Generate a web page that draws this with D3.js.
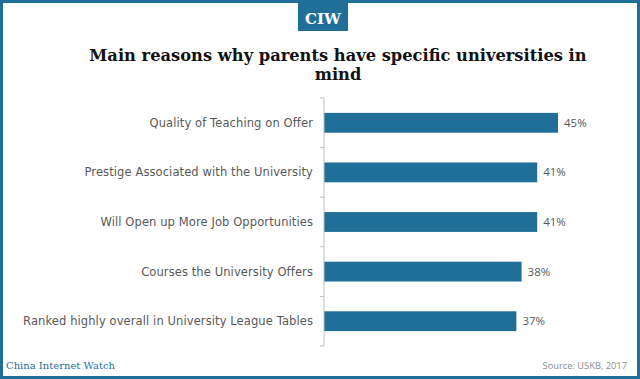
<!DOCTYPE html>
<html>
<head>
<meta charset="utf-8">
<script src="https://cdn.jsdelivr.net/npm/d3@7"></script>
<style>
  body { margin: 0; background: #fff; }
  svg { display: block; }
</style>
</head>
<body>
<script>
(function(){

	var categories = [
		"Quality of Teaching on Offer",
		"Prestige Associated with the University",
		"Will Open up More Job Opportunities",
		"Courses the University Offers",
		"Ranked highly overall in University League Tables"
	];
	var values = [45, 41, 41, 38, 37];
	var valueLabels = ["45%", "41%", "41%", "38%", "37%"];

	var width = 640,
		height = 379;

	var blue = "#1f6f98";

	var svg = d3.select("body")
		.append("svg")
		.attr("width", width)
		.attr("height", height);

	//outer frame
	svg.append("rect")
		.attr("x", 1.5)
		.attr("y", 1.5)
		.attr("width", width - 3)
		.attr("height", height - 3)
		.attr("fill", "#fff")
		.attr("stroke", blue)
		.attr("stroke-width", 3);

	//CIW badge
	svg.append("rect")
		.attr("x", 298)
		.attr("y", 3)
		.attr("width", 50)
		.attr("height", 28)
		.attr("fill", blue);
	svg.append("text")
		.attr("x", 323)
		.attr("y", 24)
		.attr("text-anchor", "middle")
		.attr("fill", "#fff")
		.style("font-family", "'DejaVu Serif', serif")
		.style("font-size", "15px")
		.style("font-weight", "bold")
		.text("CIW");

	//title
	var title = svg.append("text")
		.attr("text-anchor", "middle")
		.attr("fill", "#111")
		.style("font-family", "'DejaVu Serif', serif")
		.style("font-size", "16.3px")
		.style("font-weight", "bold");
	title.append("tspan").attr("x", 338).attr("y", 61)
		.text("Main reasons why parents have specific universities in");
	title.append("tspan").attr("x", 338).attr("y", 80)
		.text("mind");

	//scales
	var x = d3.scaleLinear()
		.domain([0, 45])
		.range([324, 558]);

	var y = d3.scaleBand()
		.domain(categories)
		.range([98, 346])
		.paddingInner(0.6)
		.paddingOuter(0.3);

	//bars
	svg.selectAll(".bar")
		.data(values)
		.enter()
		.append("rect")
		.attr("class", "bar")
		.attr("x", x(0))
		.attr("y", function(d, i){ return y(categories[i]); })
		.attr("width", function(d){ return x(d) - x(0); })
		.attr("height", y.bandwidth())
		.attr("fill", blue);

	//axis line and ticks between categories
	svg.append("line")
		.attr("x1", x(0)).attr("x2", x(0))
		.attr("y1", y.range()[0]).attr("y2", y.range()[1])
		.attr("stroke", "#bfbfbf")
		.attr("stroke-width", 1);

	var bounds = d3.range(categories.length + 1).map(function(i){
		return y.range()[0] + i * y.step();
	});
	svg.selectAll(".tick")
		.data(bounds)
		.enter()
		.append("line")
		.attr("x1", x(0) - 4).attr("x2", x(0))
		.attr("y1", function(d){ return d; })
		.attr("y2", function(d){ return d; })
		.attr("stroke", "#bfbfbf");

	//category labels
	svg.selectAll(".cat")
		.data(categories)
		.enter()
		.append("text")
		.attr("x", 313)
		.attr("y", function(d){ return y(d) + y.bandwidth() / 2; })
		.attr("dy", "0.35em")
		.attr("text-anchor", "end")
		.attr("fill", "#595959")
		.style("font-family", "'DejaVu Sans', sans-serif")
		.style("font-size", "11.5px")
		.style("letter-spacing", "0.1px")
		.text(function(d){ return d; });

	//value labels
	svg.selectAll(".val")
		.data(values)
		.enter()
		.append("text")
		.attr("x", function(d){ return x(d) + 6; })
		.attr("y", function(d, i){ return y(categories[i]) + y.bandwidth() / 2; })
		.attr("dy", "0.35em")
		.attr("fill", "#595959")
		.style("font-family", "'Open Sans', sans-serif")
		.style("font-size", "11.5px")
		.text(function(d, i){ return valueLabels[i]; });

	//footer
	svg.append("text")
		.attr("x", 6)
		.attr("y", 369)
		.attr("fill", blue)
		.style("font-family", "'DejaVu Serif', serif")
		.style("font-size", "10px")
		.text("China Internet Watch");

	svg.append("text")
		.attr("x", 627)
		.attr("y", 369)
		.attr("text-anchor", "end")
		.attr("fill", "#8c8c8c")
		.style("font-family", "'Open Sans', sans-serif")
		.style("font-size", "9.3px")
		.text("Source: USKB, 2017");

})();
</script>
</body>
</html>
